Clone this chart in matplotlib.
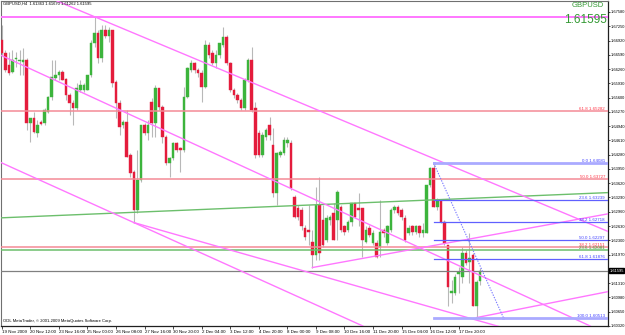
import matplotlib.pyplot as plt
import matplotlib.transforms as mtransforms
import numpy as np

plt.rcParams['font.family'] = ['Liberation Sans', 'DejaVu Sans']

symbol = "GBPUSD"
timeframe = "H4"

# H4 bars, 19 Nov 2009 .. 18 Dec 2009
opens = [
    1.6693, 1.6663, 1.6636, 1.6619, 1.6649, 1.6645, 1.6643, 1.6647, 1.6502, 1.6513,
    1.6478, 1.6504, 1.6502, 1.6527, 1.6562, 1.6606, 1.6613, 1.6619, 1.6603, 1.6566,
    1.6548, 1.6536, 1.6578, 1.6578, 1.6578, 1.6613, 1.6686, 1.6710, 1.6652, 1.6716,
    1.6703, 1.6716, 1.6596, 1.6548, 1.6497, 1.6504, 1.6428, 1.6388, 1.6301, 1.6370,
    1.6497, 1.6478, 1.6550, 1.6502, 1.6582, 1.6539, 1.6469, 1.6409, 1.6421, 1.6455,
    1.6444, 1.6439, 1.6562, 1.6624, 1.6640, 1.6624, 1.6617, 1.6585, 1.6682, 1.6663,
    1.6640, 1.6659, 1.6682, 1.6700, 1.6640, 1.6578, 1.6566, 1.6555, 1.6536, 1.6601,
    1.6647, 1.6536, 1.6478, 1.6428, 1.6469, 1.6497, 1.6451, 1.6340, 1.6428, 1.6432,
    1.6455, 1.6455, 1.6331, 1.6305, 1.6301, 1.6259, 1.6254, 1.6227, 1.6197, 1.6312,
    1.6278, 1.6231, 1.6278, 1.6294, 1.6278, 1.6308, 1.6262, 1.6254, 1.6273, 1.6317,
    1.6305, 1.6305, 1.6227, 1.6259, 1.6224, 1.6224, 1.6215, 1.6254, 1.6224, 1.6254,
    1.6301, 1.6308, 1.6301, 1.6282, 1.6247, 1.6262, 1.6250, 1.6262, 1.6247, 1.6247,
    1.6358, 1.6398, 1.6308, 1.6324, 1.6273, 1.6220, 1.6109, 1.6109, 1.6153, 1.6146,
    1.6201, 1.6180, 1.6197, 1.6077, 1.61363]
highs = [
    1.6728, 1.6670, 1.6666, 1.6670, 1.6666, 1.6670, 1.6675, 1.6652, 1.6513, 1.6527,
    1.6509, 1.6509, 1.6536, 1.6564, 1.6647, 1.6647, 1.6624, 1.6624, 1.6606, 1.6571,
    1.6555, 1.6594, 1.6601, 1.6594, 1.6613, 1.6693, 1.6747, 1.6716, 1.6728, 1.6728,
    1.6724, 1.6716, 1.6601, 1.6555, 1.6509, 1.6532, 1.6432, 1.6393, 1.6439, 1.6497,
    1.6502, 1.6509, 1.6559, 1.6589, 1.6582, 1.6543, 1.6474, 1.6423, 1.6458, 1.6458,
    1.6446, 1.6585, 1.6631, 1.6647, 1.6643, 1.6629, 1.6624, 1.6693, 1.6689, 1.6670,
    1.6670, 1.6686, 1.6724, 1.6705, 1.6643, 1.6582, 1.6571, 1.6559, 1.6606, 1.6652,
    1.6677, 1.6550, 1.6485, 1.6481, 1.6490, 1.6516, 1.6490, 1.6435, 1.6439, 1.6469,
    1.6469, 1.6462, 1.6335, 1.6312, 1.6308, 1.6266, 1.6312, 1.6254, 1.6354, 1.6377,
    1.6312, 1.6289, 1.6289, 1.6317, 1.6347, 1.6312, 1.6266, 1.6278, 1.6317, 1.6317,
    1.6340, 1.6305, 1.6262, 1.6266, 1.6254, 1.6231, 1.6324, 1.6259, 1.6266, 1.6305,
    1.6312, 1.6312, 1.6305, 1.6289, 1.6266, 1.6266, 1.6266, 1.6266, 1.6271, 1.6358,
    1.6400, 1.64081, 1.6328, 1.6324, 1.6278, 1.6220, 1.6139, 1.6151, 1.6169, 1.6215,
    1.6208, 1.6247, 1.6201, 1.6139, 1.61670]
lows = [
    1.6659, 1.6619, 1.6613, 1.6617, 1.6631, 1.6613, 1.6613, 1.6485, 1.6458, 1.6478,
    1.6469, 1.6497, 1.6497, 1.6525, 1.6555, 1.6601, 1.6601, 1.6601, 1.6555, 1.6520,
    1.6497, 1.6532, 1.6573, 1.6573, 1.6578, 1.6608, 1.6677, 1.6640, 1.6643, 1.6698,
    1.6689, 1.6585, 1.6513, 1.6474, 1.6490, 1.6423, 1.6377, 1.6271, 1.6294, 1.6365,
    1.6474, 1.6462, 1.6469, 1.6469, 1.6532, 1.6455, 1.6405, 1.6377, 1.6416, 1.6435,
    1.6388, 1.6435, 1.6559, 1.6619, 1.6617, 1.6608, 1.6550, 1.6582, 1.6652, 1.6636,
    1.6629, 1.6652, 1.6677, 1.6636, 1.6573, 1.6559, 1.6548, 1.6532, 1.6532, 1.6596,
    1.6527, 1.6421, 1.6423, 1.6423, 1.6462, 1.6462, 1.6331, 1.6312, 1.6423, 1.6428,
    1.6446, 1.6347, 1.6282, 1.6278, 1.6254, 1.6231, 1.6220, 1.6167, 1.6185, 1.6185,
    1.6215, 1.6227, 1.6266, 1.6231, 1.6231, 1.6250, 1.6243, 1.6250, 1.6262, 1.6282,
    1.6262, 1.6192, 1.6224, 1.6238, 1.6220, 1.6190, 1.6192, 1.6238, 1.6220, 1.6250,
    1.6294, 1.6289, 1.6278, 1.6227, 1.6243, 1.6243, 1.6245, 1.6238, 1.6238, 1.6247,
    1.6354, 1.6308, 1.6301, 1.6271, 1.6220, 1.6077, 1.6086, 1.6104, 1.6109, 1.6132,
    1.6174, 1.6132, 1.6077, 1.60513, 1.61262]
closes = [
    1.6663, 1.6624, 1.6617, 1.6647, 1.6652, 1.6647, 1.6647, 1.6502, 1.6513, 1.6481,
    1.6497, 1.6499, 1.6532, 1.6562, 1.6608, 1.6613, 1.6619, 1.6601, 1.6566, 1.6548,
    1.6536, 1.6582, 1.6589, 1.6589, 1.6613, 1.6686, 1.6710, 1.6652, 1.6716, 1.6703,
    1.6716, 1.6594, 1.6548, 1.6492, 1.6504, 1.6423, 1.6386, 1.6301, 1.6370, 1.6497,
    1.6478, 1.6497, 1.6502, 1.6582, 1.6539, 1.6469, 1.6409, 1.6421, 1.6455, 1.6439,
    1.6439, 1.6562, 1.6629, 1.6640, 1.6624, 1.6617, 1.6585, 1.6682, 1.6659, 1.6640,
    1.6659, 1.6686, 1.6700, 1.6640, 1.6578, 1.6566, 1.6555, 1.6536, 1.6601, 1.6647,
    1.6532, 1.6428, 1.6428, 1.6474, 1.6485, 1.6474, 1.6340, 1.6432, 1.6435, 1.6462,
    1.6462, 1.6351, 1.6285, 1.6285, 1.6262, 1.6238, 1.6250, 1.6197, 1.6312, 1.6201,
    1.6220, 1.6282, 1.6285, 1.6231, 1.6342, 1.6254, 1.6250, 1.6273, 1.6317, 1.6285,
    1.6301, 1.6231, 1.6254, 1.6243, 1.6247, 1.6192, 1.6250, 1.6247, 1.6262, 1.6301,
    1.6308, 1.6294, 1.6285, 1.6231, 1.6259, 1.6250, 1.6262, 1.6247, 1.6254, 1.6358,
    1.6398, 1.6308, 1.6324, 1.6273, 1.6224, 1.6121, 1.6113, 1.6146, 1.6157, 1.6201,
    1.6178, 1.6190, 1.6077, 1.6134, 1.61595]

date_ticks = list(range(0, 129, 8))
date_labels = ["19 Nov 2009", "20 Nov 12:00", "23 Nov 16:00", "25 Nov 00:00",
               "26 Nov 08:00", "27 Nov 16:00", "30 Nov 20:00", "2 Dec 04:00",
               "3 Dec 12:00", "4 Dec 20:00", "8 Dec 00:00", "9 Dec 08:00",
               "10 Dec 16:00", "11 Dec 20:00", "15 Dec 04:00", "16 Dec 12:00",
               "17 Dec 20:00"]
# 1.61640 sits under the bid box in the reference, so it is left out
price_ticks = [1.67580, 1.67250, 1.66920, 1.66590, 1.66260, 1.65930, 1.65600,
               1.65270, 1.64940, 1.64610, 1.64280, 1.63950, 1.63620, 1.63290,
               1.62960, 1.62630, 1.62300, 1.61970, 1.61310, 1.60980,
               1.60650, 1.60320]

# chart objects: (bar, price) anchors
line_a = [(26, 1.6747), (121, 1.6419)]
line_b = [(0, 1.6657), (121, 1.6198)]
line_c = [(0, 1.6409), (37, 1.6271)]
ray_d = [(37, 1.6271), (85.5, 1.6157)]
ray_e = [(87, 1.6167), (131, 1.6233)]
ray_f = [(133, 1.60513), (150, 1.6079)]
green_line = [(0, 1.6282), (169, 1.6340)]
hline_top = 1.6747

red_fib_levels = [61.8, 50.0, 38.2]
red_fib_prices = [1.65282, 1.63727, 1.62151]
green_fib_levels = [23.6]
green_fib_prices = [1.62081]
blue_fib = [(121, 1.64081), (140.5, 1.60513)]
blue_fib_levels = [0.0, 23.6, 38.2, 50.0, 61.8, 100.0]

bid = closes[-1]

fig = plt.figure(figsize=(6.25, 3.35), dpi=100)
ax = fig.add_axes([1 / 625, 9 / 335, 607 / 625, 325 / 335])
xmin, xmax = -0.2, 169.8
ax.set_xlim(xmin, xmax)
ax.set_ylim(1.60318, 1.67834)
trans = mtransforms.blended_transform_factory(ax.transAxes, ax.transData)

# candles
x = np.arange(len(opens))
o = np.array(opens)
h = np.array(highs)
l = np.array(lows)
c = np.array(closes)
up = c >= o
ax.vlines(x, l, h, color='#b8b8b8', lw=0.8, zorder=2)
ax.bar(x[up], c[up] - o[up], bottom=o[up], width=0.72, color='#3cb43c',
       edgecolor='#3cb43c', lw=0.3, zorder=3)
ax.bar(x[~up], o[~up] - c[~up], bottom=c[~up], width=0.72, color='#e41c3c',
       edgecolor='#e41c3c', lw=0.3, zorder=3)

# horizontal lines
ax.axhline(hline_top, color='#ff77ff', lw=1.4, zorder=4)
ax.axhline(bid, color='#808080', lw=0.9, zorder=4)

for lvl, p in zip(red_fib_levels, red_fib_prices):
    ax.axhline(p, color='#f48a96', lw=1.1, zorder=4)
    ax.text(0.995, p, f"{lvl:.1f} {p:.5f}", transform=trans, ha='right',
            va='bottom', fontsize=3.2, color='#ff3344', zorder=6)
for lvl, p in zip(green_fib_levels, green_fib_prices):
    ax.axhline(p, color='#6cbf6c', lw=1.1, zorder=4)
    ax.text(0.995, p, f"{lvl:.1f} {p:.5f}", transform=trans, ha='right',
            va='bottom', fontsize=3.2, color='#2ea02e', zorder=6)

# trend lines
ax.axline(green_line[0], green_line[1], color='#6cbf6c', lw=1, zorder=4)
for pts in (line_a, line_b, line_c):
    ax.axline(pts[0], pts[1], color='#ff77ff', lw=1, zorder=4)
for (x1, y1), (x2, y2) in (ray_d, ray_e, ray_f):
    slope = (y2 - y1) / (x2 - x1)
    ax.plot([x1, xmax], [y1, y1 + slope * (xmax - x1)], color='#ff77ff',
            lw=1, zorder=4)

# blue fibonacci
(fx1, fp1), (fx2, fp2) = blue_fib
ax.plot([fx1, fx2], [fp1, fp2], color='#7a7aff', lw=0.8, ls=(0, (1.2, 1.2)),
        zorder=5)
ax.plot([fx1, fx2], [fp1, fp2], ls='none', marker='s', ms=1.5,
        mfc='none', mec='#7a7aff', mew=0.5, zorder=5)
for lvl in blue_fib_levels:
    p = fp1 + (fp2 - fp1) * lvl / 100
    edge = lvl in (0.0, 100.0)
    ax.plot([fx1, xmax], [p, p], color='#aaaaff' if edge else '#6060ff',
            lw=2 if edge else 0.9, zorder=5)
    ax.text(0.995, p, f"{lvl:.1f} {p:.5f}", transform=trans, ha='right',
            va='bottom', fontsize=3.2, color='#4040ff', zorder=6)

# axes styling
ax.yaxis.tick_right()
ax.set_yticks(price_ticks, [f"{v:.5f}" for v in price_ticks])
ax.set_xticks(date_ticks, date_labels, ha='left')
ax.tick_params(axis='both', labelsize=3.2, length=2, width=0.5, pad=1,
               colors='black')
ax.tick_params(axis='y', labelsize=2.9, length=1.5, pad=0.5)
for side in ('left', 'top'):
    ax.spines[side].set_color('#707070')
    ax.spines[side].set_linewidth(0.8)
for side in ('right', 'bottom'):
    ax.spines[side].set_color('#202020')
    ax.spines[side].set_linewidth(0.9)

ax.text(1.002, bid, f"{bid:.5f}", transform=trans, ha='left', va='center',
        fontsize=2.9, color='white', clip_on=False, zorder=10,
        bbox=dict(boxstyle='square,pad=0.15', fc='black', ec='black'))

fig.text(3 / 625, 1 - 2 / 335,
         f"{symbol},{timeframe}  {opens[-1]:.5f} {highs[-1]:.5f} "
         f"{lows[-1]:.5f} {closes[-1]:.5f}",
         ha='left', va='top', fontsize=3.0, color='black')
fig.text(604 / 625, 1 - 2 / 335, symbol, ha='right', va='top',
         fontsize=5.5, color='#339933')
fig.text(607 / 625, 1 - 14 / 335, f"{bid:.5f}", ha='right', va='top',
         fontsize=8.5, color='#339933')
ax.text(0.004, 0.008, "ODL MetaTrader, \u00a9 2001-2009 MetaQuotes Software Corp.",
        transform=ax.transAxes, ha='left', va='bottom', fontsize=3.0,
        color='black')

fig.savefig("out.png", dpi=100)
